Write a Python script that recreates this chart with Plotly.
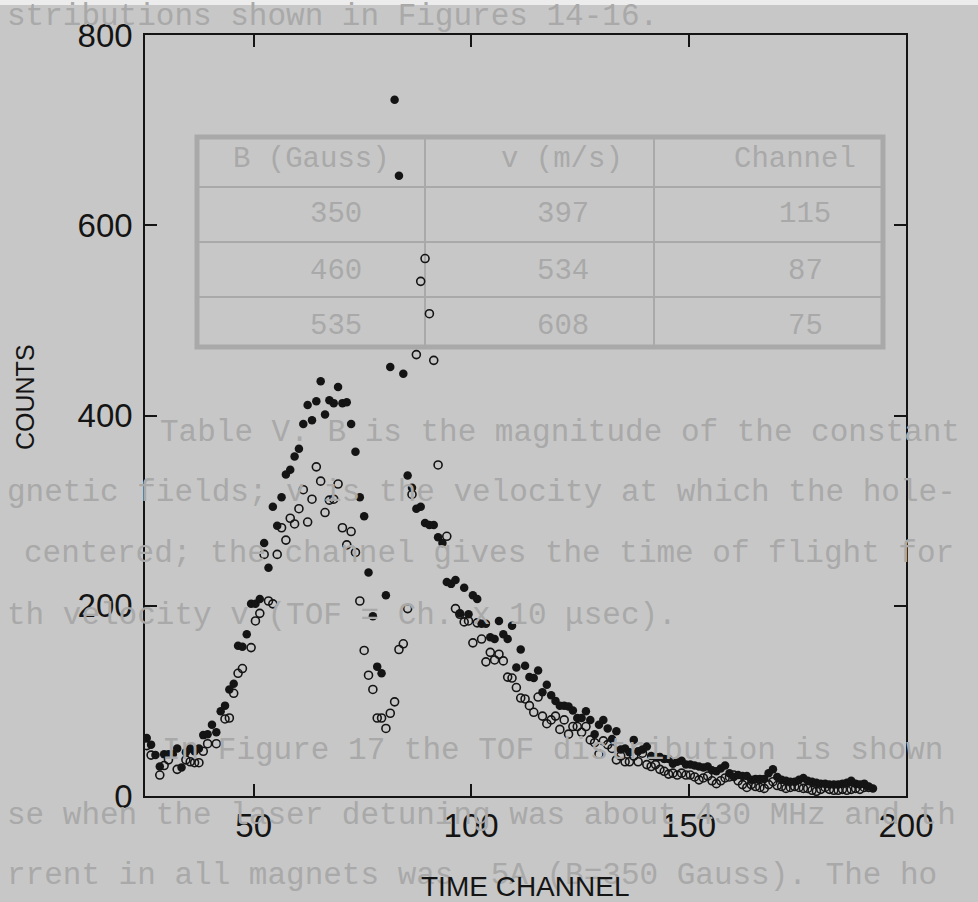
import plotly.graph_objects as go

# ---------------- data ----------------
filled_channel = list(range(25, 193))
filled_counts = [61, 54, 43, 31, 44, 44, 44, 50, 30, 46, 50, 47, 50, 64, 65, 75, 67, 89, 95, 112,
                 118, 158, 157, 170, 202, 202, 207, 266, 240, 304, 284, 314, 338, 343, 357, 365, 391, 411, 395, 415,
                 436, 401, 416, 413, 430, 413, 414, 391, 362, 314, 294, 235, 189, 136, 129, 211, 451, 732, 652, 444,
                 337, 324, 302, 304, 287, 285, 285, 272, 266, 225, 223, 227, 192, 219, 191, 211, 207, 181, 181, 167,
                 165, 184, 170, 165, 179, 135, 154, 137, 125, 124, 132, 109, 117, 106, 100, 95, 95, 94, 90, 82,
                 82, 89, 80, 65, 75, 80, 71, 60, 68, 49, 50, 46, 59, 47, 49, 52, 42, 41, 41, 39,
                 39, 34, 36, 37, 33, 33, 32, 31, 30, 31, 27, 26, 29, 32, 24, 20, 22, 21, 21, 17,
                 18, 18, 18, 24, 28, 20, 17, 16, 15, 15, 17, 19, 16, 15, 14, 13, 13, 12, 12, 12,
                 13, 14, 16, 13, 12, 13, 10, 8]

open_channel = [25, 26, 28, 29, 30, 32, 34, 35, 36, 37, 38, 39, 41, 43, 44, 45, 46, 47, 49, 50,
                51, 52, 53, 54, 55, 56, 57, 58, 59, 60, 61, 62, 63, 64, 65, 66, 67, 68, 69, 70,
                71, 72, 73, 74, 75, 76, 77, 78, 79, 80, 81, 82, 83, 84, 85, 86, 87, 88, 89, 90,
                91, 92, 94, 96, 97, 98, 99, 100, 101, 102, 103, 104, 105, 106, 107, 108, 109, 110, 111, 112,
                113, 114, 115, 116, 117, 118, 119, 120, 121, 122, 123, 124, 125, 126, 127, 128, 129, 130, 131, 132,
                133, 134, 135, 136, 137, 138, 139, 140, 141, 142, 143, 144, 145, 146, 147, 148, 149, 150, 151, 152,
                153, 154, 155, 156, 157, 158, 159, 160, 161, 162, 163, 164, 165, 166, 167, 168, 169, 170, 171, 172,
                173, 174, 175, 176, 177, 178, 179, 180, 181, 182, 183, 184, 185, 186, 187, 188, 189, 190, 191]
open_counts = [53, 43, 22, 32, 38, 28, 38, 36, 35, 35, 47, 55, 55, 81, 82, 108, 129, 134, 156, 184,
               192, 254, 205, 202, 254, 282, 269, 292, 286, 302, 322, 288, 312, 346, 331, 298, 311, 312, 328, 282,
               264, 278, 256, 205, 153, 127, 112, 82, 82, 71, 87, 99, 154, 160, 197, 317, 464, 541, 565, 507,
               458, 348, 273, 197, 191, 183, 184, 161, 182, 165, 141, 151, 143, 149, 142, 125, 124, 114, 103, 102,
               95, 88, 104, 84, 76, 80, 84, 70, 80, 65, 73, 73, 67, 73, 59, 56, 44, 58, 54, 50,
               38, 42, 36, 36, 42, 36, 45, 33, 31, 33, 28, 26, 23, 24, 22, 24, 22, 22, 20, 17,
               19, 21, 16, 13, 16, 19, 20, 22, 16, 12, 9, 12, 10, 9, 8, 12, 15, 11, 10, 8,
               9, 10, 9, 8, 8, 6, 5, 7, 9, 7, 6, 6, 7, 6, 7, 8, 7, 9, 9]

# points in the scan sit slightly right of the integer channel (bin centre)
CHANNEL_OFFSET = 0.4

x_ticks = [50, 100, 150, 200]
y_ticks = [0, 200, 400, 600, 800]

# faded page text behind the chart (scanned thesis page)
page_lines = [
    "stributions shown in Figures 14-16.",
    "Table V. B is the magnitude of the constant",
    "gnetic fields; v is the velocity at which the hole-",
    "centered; the channel gives the time of flight for",
    "th velocity v (TOF = Ch. x 10 \u03bcsec).",
    "In Figure 17 the TOF distribution is shown",
    "se when the laser detuning was about 430 MHz and th",
    "rrent in all magnets was  5A (B=350 Gauss). The ho",
]
table_header = ["B (Gauss)", "v (m/s)", "Channel"]
table_rows = [["350", "397", "115"], ["460", "534", "87"], ["535", "608", "75"]]

# ---------------- layout geometry ----------------
W, H = 978, 902
L, R, T, B = 145, 906, 35, 796
pw, ph = R - L, B - T


def px(xp):
    return (xp - L) / pw


def py(yp):
    return (B - yp) / ph


BG = "#c7c7c7"
FADE = "#a9a9a9"
INK = "#141414"

fig = go.Figure()

fig.add_trace(go.Scatter(
    x=[c + CHANNEL_OFFSET for c in open_channel], y=open_counts, mode="markers",
    marker=dict(symbol="circle-open", size=8, color=INK, line=dict(width=1.6, color=INK)),
    showlegend=False, hoverinfo="y"))
fig.add_trace(go.Scatter(
    x=[c + CHANNEL_OFFSET for c in filled_channel], y=filled_counts, mode="markers",
    marker=dict(symbol="circle", size=8.5, color=INK),
    showlegend=False, hoverinfo="y"))

annotations = []
shapes = []

# light strip at the very top of the scan
shapes.append(dict(type="rect", xref="paper", yref="paper", layer="below",
                   x0=px(0), x1=px(W), y0=py(5), y1=py(0), line=dict(width=0), fillcolor="#ececec"))

# page text lines: (left px, center y px)
line_pos = [(5, 17), (158, 432), (5, 492), (22, 553), (5, 615), (160, 750), (5, 815), (5, 875)]
for txt, (lx, cy) in zip(page_lines, line_pos):
    annotations.append(dict(text=txt, xref="paper", yref="paper", x=px(lx), y=py(cy),
                            xanchor="left", yanchor="middle", showarrow=False,
                            font=dict(family="Liberation Mono", size=31, color=FADE)))

# table
tx0, tx1, ty0, ty1 = 197, 883, 137, 347
shapes.append(dict(type="rect", xref="paper", yref="paper", layer="below",
                   x0=px(tx0), x1=px(tx1), y0=py(ty0), y1=py(ty1),
                   line=dict(color=FADE, width=5)))
for cx in (425, 654):
    shapes.append(dict(type="line", xref="paper", yref="paper", layer="below",
                       x0=px(cx), x1=px(cx), y0=py(ty0), y1=py(ty1),
                       line=dict(color=FADE, width=2)))
for ry in (187, 242, 297):
    shapes.append(dict(type="line", xref="paper", yref="paper", layer="below",
                       x0=px(tx0), x1=px(tx1), y0=py(ry), y1=py(ry),
                       line=dict(color=FADE, width=2)))
col_centers = [(311, 336), (562, 563), (795, 805)]
for j, h in enumerate(table_header):
    annotations.append(dict(text=h, xref="paper", yref="paper", x=px(col_centers[j][0]), y=py(160),
                            xanchor="center", yanchor="middle", showarrow=False,
                            font=dict(family="Liberation Mono", size=29, color=FADE)))
for i, row in enumerate(table_rows):
    for j, v in enumerate(row):
        annotations.append(dict(text=v, xref="paper", yref="paper", x=px(col_centers[j][1]),
                                y=py(215 + 56 * i), xanchor="center", yanchor="middle", showarrow=False,
                                font=dict(family="Liberation Mono", size=29, color=FADE)))

# axis titles
annotations.append(dict(text="TIME CHANNEL", xref="paper", yref="paper", x=px(525), y=py(886),
                        xanchor="center", yanchor="middle", showarrow=False,
                        font=dict(family="Liberation Sans", size=28, color=INK)))
annotations.append(dict(text="COUNTS", xref="paper", yref="paper", x=px(25), y=py(397),
                        xanchor="center", yanchor="middle", showarrow=False, textangle=-90,
                        font=dict(family="Liberation Sans", size=25, color=INK)))

axis_common = dict(showgrid=False, zeroline=False, showline=True, linecolor=INK, linewidth=1.5,
                   mirror="ticks", ticks="inside", ticklen=12, tickwidth=1.5, tickcolor=INK,
                   tickfont=dict(family="Liberation Sans", size=33, color=INK))

fig.update_layout(
    width=W, height=H,
    margin=dict(l=L, r=W - R, t=T, b=H - B),
    paper_bgcolor=BG, plot_bgcolor="rgba(0,0,0,0)",
    xaxis=dict(range=[25, 200], tickvals=x_ticks, ticktext=[str(v) for v in x_ticks], **axis_common),
    yaxis=dict(range=[0, 800], tickvals=y_ticks, ticktext=[str(v) for v in y_ticks],
               ticklabelstandoff=4, **axis_common),
    annotations=annotations, shapes=shapes,
)

fig.write_html("out.html", config={"displayModeBar": False},
               post_script="document.body.style.margin='0px';")
